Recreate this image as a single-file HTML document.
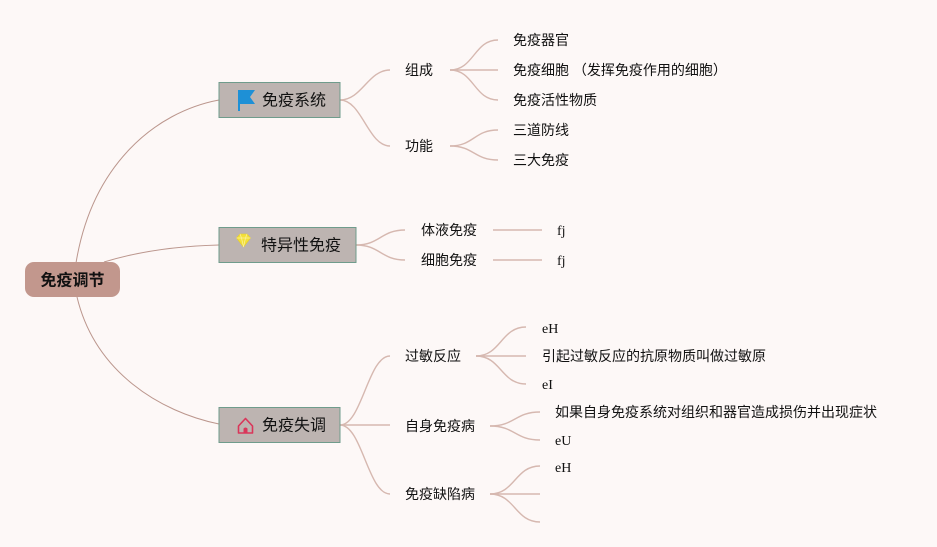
<!DOCTYPE html>
<html><head><meta charset="utf-8"><style>
html,body{margin:0;padding:0;background:#fdf8f7;}
svg{display:block;}
text{font-family:"Liberation Sans","Noto Sans CJK SC",sans-serif;fill:#111;}
.s{font-family:"Liberation Serif","Noto Serif CJK SC",serif;}
</style></head><body>
<svg width="937" height="547" viewBox="0 0 937 547" xmlns="http://www.w3.org/2000/svg">
<rect width="937" height="547" fill="#fdf8f7"/>
<g fill="none" stroke="#bb968d" stroke-width="1">
<path d="M76,263 C92,165 155,112 219,100"/>
<path d="M104,262 C140,251 180,246 219,245"/>
<path d="M77,297 C95,372 160,412 219,424"/>
</g>
<g fill="none" stroke="#d6b8b0" stroke-width="1.4">
<path d="M340,100 C362,100 368,70 390,70"/>
<path d="M340,100 C362,100 368,146 390,146"/>
<path d="M450,70 C474,70 474,40 498,40"/>
<path d="M450,70 L498,70"/>
<path d="M450,70 C474,70 474,100 498,100"/>
<path d="M450,146 C474,146 474,130 498,130"/>
<path d="M450,146 C474,146 474,160 498,160"/>
<path d="M356,245 C380,245 381,230 405,230"/>
<path d="M356,245 C380,245 381,260 405,260"/>
<path d="M493,230 L542,230"/>
<path d="M493,260 L542,260"/>
<path d="M340,425 C362,425 368,356 390,356"/>
<path d="M340,425 L390,425"/>
<path d="M340,425 C362,425 368,494 390,494"/>
<path d="M476,356 C501,356 501,327 526,327"/>
<path d="M476,356 L526,356"/>
<path d="M476,356 C501,356 501,384 526,384"/>
<path d="M490,426 C515,426 515,412 540,412"/>
<path d="M490,426 C515,426 515,440 540,440"/>
<path d="M490,494 C515,494 515,466 540,466"/>
<path d="M490,494 L540,494"/>
<path d="M490,494 C515,494 515,522 540,522"/>
</g>
<!-- root -->
<rect x="25" y="262" width="95" height="35" rx="9" fill="#c2978d"/>
<text x="72.5" y="285.5" font-size="16" font-weight="bold" text-anchor="middle">免疫调节</text>
<!-- level1 boxes -->
<rect x="219" y="82.5" width="121" height="35" fill="#bdb4b1" stroke="#6f9c8c" stroke-width="1"/>
<path d="M238,90 L255,90 L250,97 L255,104 L240,104 L240,111 L238,111 Z" fill="#1e90d6"/>
<text x="262" y="105.5" font-size="16">免疫系统</text>
<rect x="219" y="227.5" width="137" height="35" fill="#bdb4b1" stroke="#6f9c8c" stroke-width="1"/>
<g fill="#f3e03a" stroke="#e9cf1f" stroke-width="0.6">
<path d="M240,234 L247,234 L250.5,238 L243.5,247 L236.5,238 Z"/>
</g>
<path d="M236.5,238 L250.5,238 M240,234 L241.5,238 L243.5,247 L245.5,238 L247,234" fill="none" stroke="#fbf1a0" stroke-width="0.7"/>
<text x="261" y="250.5" font-size="16">特异性免疫</text>
<rect x="219" y="407.5" width="121" height="35" fill="#bdb4b1" stroke="#6f9c8c" stroke-width="1"/>
<path d="M238.5,426 L245.5,418.5 L252.5,426 L252.5,433 L238.5,433 Z" fill="none" stroke="#d9365a" stroke-width="1.6" stroke-linejoin="round"/>
<path d="M243.5,433 L243.5,428.5 Q245.5,426.5 247.5,428.5 L247.5,433 Z" fill="#d9365a"/>
<text x="262" y="430.5" font-size="16">免疫失调</text>
<!-- level2 -->
<g font-size="14">
<text x="405" y="75">组成</text>
<text x="405" y="151">功能</text>
<text x="513" y="45">免疫器官</text>
<text x="513" y="75">免疫细胞 （发挥免疫作用的细胞）</text>
<text x="513" y="105">免疫活性物质</text>
<text x="513" y="135">三道防线</text>
<text x="513" y="165">三大免疫</text>
<text x="421" y="235">体液免疫</text>
<text x="421" y="265">细胞免疫</text>
<text class="s" x="557" y="235">fj</text>
<text class="s" x="557" y="265">fj</text>
<text x="405" y="361">过敏反应</text>
<text x="405" y="431">自身免疫病</text>
<text x="405" y="499">免疫缺陷病</text>
<text class="s" x="542" y="333">eH</text>
<text x="542" y="361">引起过敏反应的抗原物质叫做过敏原</text>
<text class="s" x="542" y="389">eI</text>
<text x="555" y="417">如果自身免疫系统对组织和器官造成损伤并出现症状</text>
<text class="s" x="555" y="445">eU</text>
<text class="s" x="555" y="472">eH</text>
</g>
</svg>
</body></html>
